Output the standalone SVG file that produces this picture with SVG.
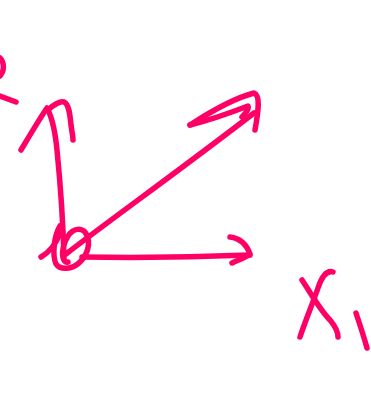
<svg xmlns="http://www.w3.org/2000/svg" width="371" height="407" viewBox="0 0 371 407">
<style>
.s{fill:none;stroke:#FF0066;stroke-width:5.5;stroke-linecap:round;stroke-linejoin:round}
</style>
<rect width="371" height="407" fill="#fff"/>
<g id="label-x2">
<path class="s" d="M0,58 C4,62 5,70 0,76"/>
<path class="s" d="M0,96 L16,102"/>
</g>
<g id="connectors">
<path class="s" d="M64,258 C63,220 60,180 57,150 C55,130 52,118 48,110"/>
<path class="s" d="M21,150 C30,135 40,118 47,108"/>
<path class="s" d="M48,110 C53,105 60,101 64,102 C69,104 70,115 71,125 C72,132 73,137 73,140"/>
<path class="s" d="M66,254 C110,220 180,170 254,113"/>
<path class="s" d="M190,125 C210,112 235,98 254,93 C260,95 259,108 255,130"/>
<path class="s" d="M190,125 C210,120 230,113 248,106 C250,110 244,114 242,117"/>
<path class="s" d="M82,257 C140,258 200,257 250,255"/>
<path class="s" d="M230,237 C238,238 246,243 250,254 C245,258 238,260 232,263"/>
</g>
<g id="origin">
<path class="s" d="M60,234 C56,243 50,252 41,257"/>
<path class="s" d="M60,226 C54,236 52,255 56,264 C60,270 72,270 80,262 C90,252 91,238 84,231 C76,226 68,232 64,245 C61,255 63,263 68,262"/>
</g>
<g id="label-x1">
<path class="s" d="M302,280 C312,295 320,310 330,320 C335,326 338,332 338,337"/>
<path class="s" d="M333,272 C327,270 322,276 318,288 C312,305 305,322 300,337"/>
<path class="s" d="M356,313 C360,325 364,337 367,348"/>
</g>
</svg>
